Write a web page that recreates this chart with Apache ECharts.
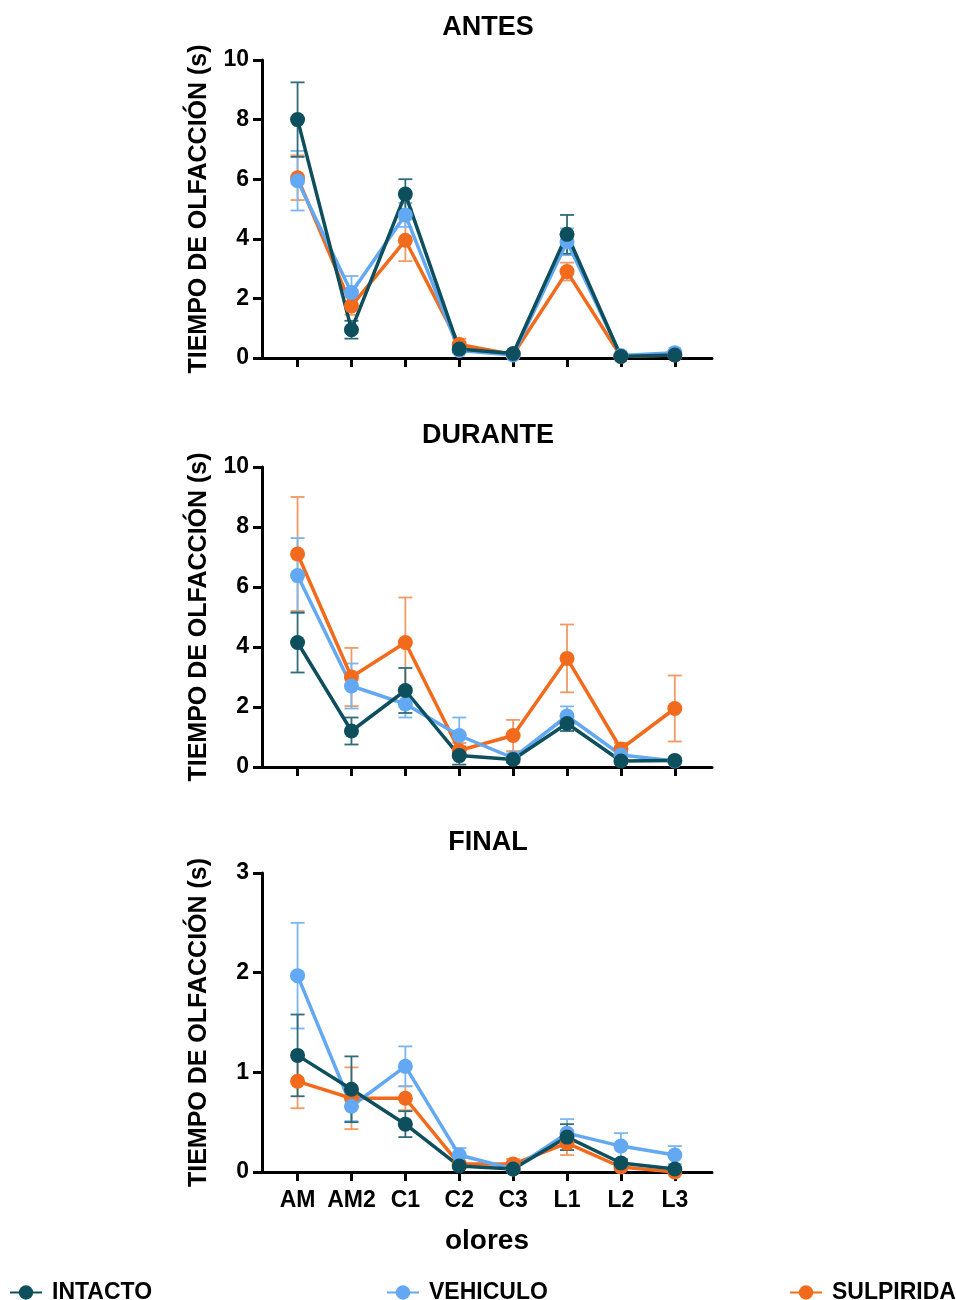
<!DOCTYPE html>
<html>
<head>
<meta charset="utf-8">
<script src="https://cdn.jsdelivr.net/npm/echarts@6/dist/echarts.min.js"></script>
<style>html,body{margin:0;padding:0;background:#fff;}#c{width:956px;height:1300px;}</style>
</head>
<body>
<div id="c"></div>
<script>
// ---- data ----
const categories = ['AM', 'AM2', 'C1', 'C2', 'C3', 'L1', 'L2', 'L3'];
const groups = ['INTACTO', 'VEHICULO', 'SULPIRIDA'];
const panelTitles = ['ANTES', 'DURANTE', 'FINAL'];
const yMaxes = [10, 10, 3];
const yIntervals = [2, 2, 1];

// ANTES
const antesIntacto      = [8.0, 0.95, 5.5, 0.30, 0.15, 4.15, 0.05, 0.10];
const antesIntactoErr   = [1.25, 0.30, 0.50, 0.10, 0.06, 0.65, 0.03, 0.04];
const antesVehiculo     = [5.95, 2.2, 4.8, 0.25, 0.10, 3.9, 0.08, 0.18];
const antesVehiculoErr  = [1.0, 0.55, 0.40, 0.08, 0.05, 0.45, 0.04, 0.06];
const antesSulpirida    = [6.05, 1.75, 3.95, 0.45, 0.12, 2.9, 0.05, 0.10];
const antesSulpiridaErr = [0.75, 0.30, 0.70, 0.20, 0.06, 0.30, 0.03, 0.04];

// DURANTE
const duranteIntacto      = [4.15, 1.2, 2.55, 0.38, 0.25, 1.45, 0.20, 0.22];
const duranteIntactoErr   = [1.0, 0.45, 0.75, 0.30, 0.10, 0.25, 0.08, 0.06];
const duranteVehiculo     = [6.38, 2.7, 2.1, 1.05, 0.30, 1.70, 0.40, 0.20];
const duranteVehiculoErr  = [1.25, 0.75, 0.45, 0.60, 0.15, 0.32, 0.12, 0.06];
const duranteSulpirida    = [7.1, 3.0, 4.15, 0.55, 1.05, 3.62, 0.60, 1.95];
const duranteSulpiridaErr = [1.9, 0.97, 1.5, 0.25, 0.52, 1.13, 0.20, 1.10];

// FINAL
const finalIntacto      = [1.17, 0.83, 0.48, 0.06, 0.03, 0.35, 0.09, 0.03];
const finalIntactoErr   = [0.41, 0.33, 0.13, 0.02, 0.02, 0.13, 0.04, 0.02];
const finalVehiculo     = [1.97, 0.66, 1.06, 0.17, 0.03, 0.39, 0.26, 0.17];
const finalVehiculoErr  = [0.53, 0.15, 0.20, 0.07, 0.02, 0.14, 0.13, 0.09];
const finalSulpirida    = [0.91, 0.74, 0.74, 0.08, 0.08, 0.29, 0.05, 0.00];
const finalSulpiridaErr = [0.27, 0.31, 0.12, 0.03, 0.05, 0.12, 0.03, 0.02];

const panelData = [
  [[antesIntacto, antesIntactoErr], [antesVehiculo, antesVehiculoErr], [antesSulpirida, antesSulpiridaErr]],
  [[duranteIntacto, duranteIntactoErr], [duranteVehiculo, duranteVehiculoErr], [duranteSulpirida, duranteSulpiridaErr]],
  [[finalIntacto, finalIntactoErr], [finalVehiculo, finalVehiculoErr], [finalSulpirida, finalSulpiridaErr]]
];

// ---- styles ----
const colors = ['#0e4f5e', '#62a8f2', '#f26a1b'];
const errColors = ['#2f6c78', '#7ab6f0', '#f29a66'];
const FONT = 'Liberation Sans, Arial, sans-serif';
const grids = [
  { left: 262, top: 60, width: 450, height: 298 },
  { left: 262, top: 467, width: 450, height: 300 },
  { left: 262, top: 873, width: 450, height: 299 }
];
const titleTops = [9, 417, 824];
const tickIdx = categories.map((c, i) => i);

const chart = echarts.init(document.getElementById('c'));

const xAxes = [], yAxes = [], series = [], titles = [];
for (let p = 0; p < 3; p++) {
  const last = p === 2;
  titles.push({
    text: panelTitles[p], left: 483, top: titleTops[p], textAlign: 'center',
    textStyle: { fontFamily: FONT, fontWeight: 'bold', fontSize: 27, color: '#000' }
  });
  xAxes.push({
    type: 'value', gridIndex: p, min: -0.66, max: 7.69,
    splitLine: { show: false },
    axisLine: { onZero: false, lineStyle: { color: '#000', width: 3 } },
    axisTick: { show: true, customValues: tickIdx, length: 9, lineStyle: { color: '#000', width: 3 } },
    axisLabel: {
      show: last, customValues: tickIdx, margin: 17,
      formatter: v => categories[Math.round(v)] || '',
      fontFamily: FONT, fontWeight: 'bold', fontSize: 23, color: '#000'
    },
    name: last ? 'olores' : '', nameLocation: 'middle', nameGap: 55,
    nameTextStyle: { fontFamily: FONT, fontWeight: 'bold', fontSize: 28, color: '#000' }
  });
  yAxes.push({
    type: 'value', gridIndex: p, min: 0, max: yMaxes[p], interval: yIntervals[p],
    splitLine: { show: false },
    axisLine: { show: true, onZero: false, lineStyle: { color: '#000', width: 3 } },
    axisTick: { show: true, length: 9, lineStyle: { color: '#000', width: 3 } },
    axisLabel: { margin: 13, fontFamily: FONT, fontWeight: 'bold', fontSize: 23, color: '#000' },
    name: 'TIEMPO DE OLFACCIÓN (s)', nameLocation: 'middle', nameGap: 50,
    nameTextStyle: { fontFamily: FONT, fontWeight: 'bold', fontSize: 25, color: '#000' }
  });
  // draw order: SULPIRIDA, VEHICULO, INTACTO (last on top)
  [2, 1, 0].forEach(g => {
    const [means, errs] = panelData[p][g];
    const col = errColors[g];
    series.push({
      type: 'custom', name: groups[g] + ' err', xAxisIndex: p, yAxisIndex: p,
      clip: true, z: 2, silent: true,
      data: means.map((m, i) => [i, Math.max(0, m - errs[i]), m + errs[i]]),
      renderItem: function (params, api) {
        const x = api.value(0);
        const lo = api.coord([x, api.value(1)]);
        const hi = api.coord([x, api.value(2)]);
        const w = 7;
        const st = { stroke: col, lineWidth: 1.8 };
        return {
          type: 'group', children: [
            { type: 'line', shape: { x1: lo[0], y1: lo[1], x2: hi[0], y2: hi[1] }, style: st },
            { type: 'line', shape: { x1: hi[0] - w, y1: hi[1], x2: hi[0] + w, y2: hi[1] }, style: st },
            { type: 'line', shape: { x1: lo[0] - w, y1: lo[1], x2: lo[0] + w, y2: lo[1] }, style: st }
          ]
        };
      }
    });
  });
  [2, 1, 0].forEach(g => {
    const [means] = panelData[p][g];
    series.push({
      type: 'line', name: groups[g], xAxisIndex: p, yAxisIndex: p, z: 3,
      data: means.map((m, i) => [i, m]),
      symbol: 'circle', symbolSize: 15, showSymbol: true,
      lineStyle: { color: colors[g], width: 3.5 },
      itemStyle: { color: colors[g] },
      emphasis: { disabled: true }
    });
  });
}

const legendLefts = [4, 381, 784];
const legends = groups.map((g, i) => ({
  data: [g], left: legendLefts[i], top: 1276, orient: 'horizontal',
  itemWidth: 32, itemHeight: 18, selectedMode: false,
  textStyle: { fontFamily: FONT, fontWeight: 'bold', fontSize: 23, color: '#000', padding: [0, 0, 0, 5] }
}));

chart.setOption({
  animation: false,
  backgroundColor: '#fff',
  color: colors,
  title: titles,
  legend: legends,
  grid: grids,
  xAxis: xAxes,
  yAxis: yAxes,
  series: series
});
</script>
</body>
</html>
